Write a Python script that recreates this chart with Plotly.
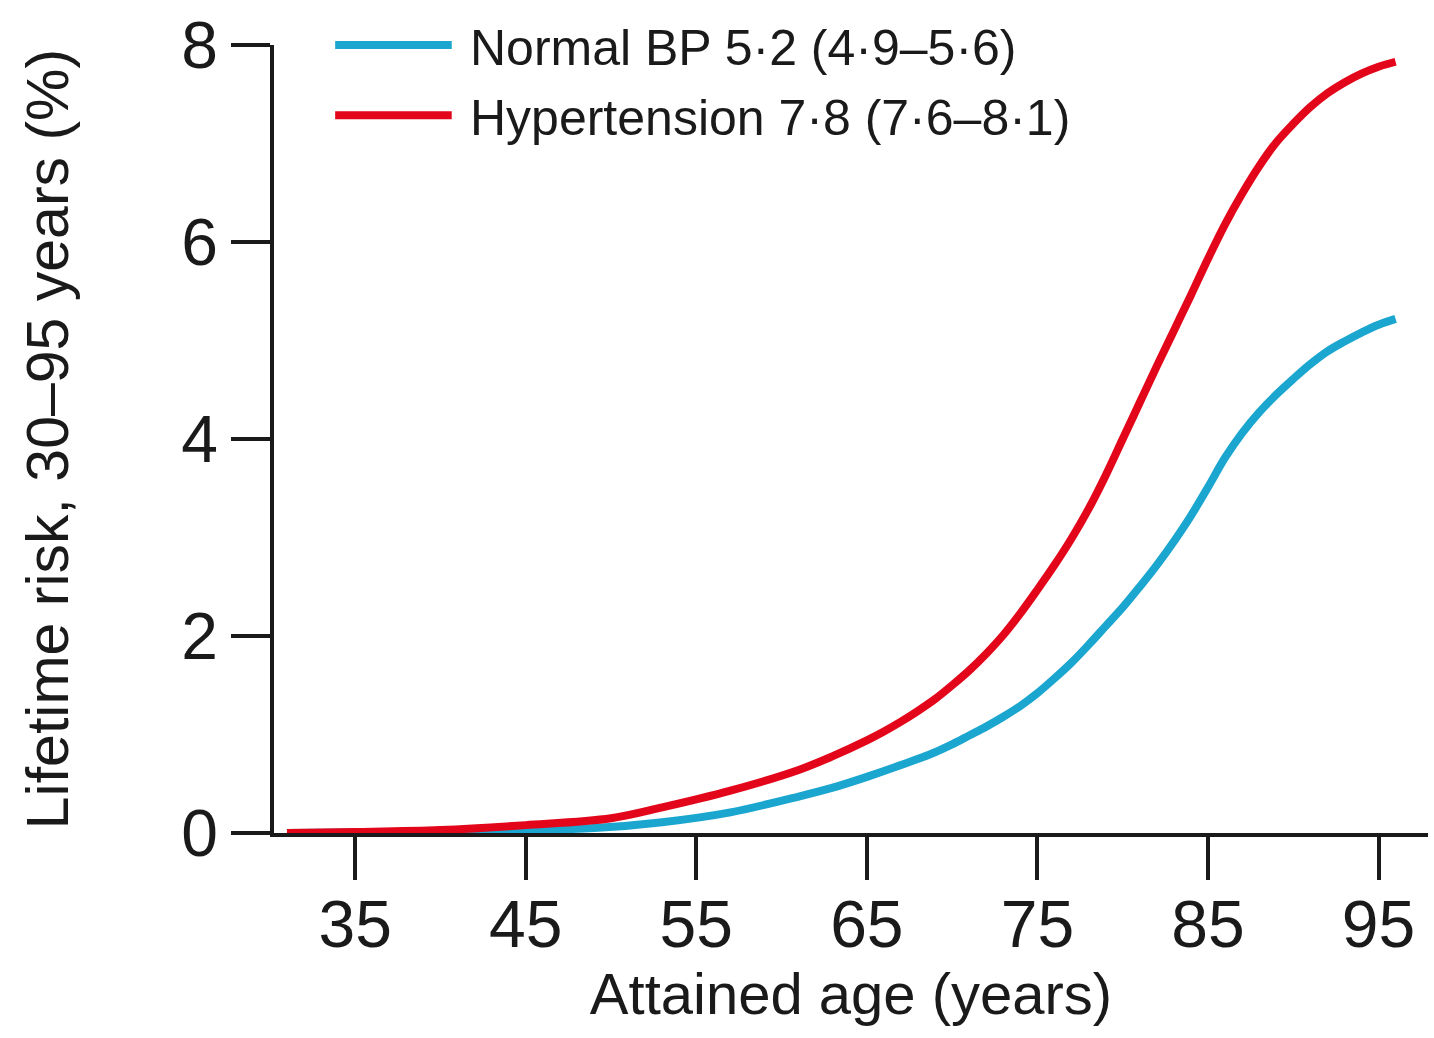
import plotly.graph_objects as go

# Data
age_red = [31, 35, 40, 45, 50, 53, 57, 61, 63, 65, 66, 67, 68, 69, 70, 71, 72, 73, 74, 75, 76, 77,
           78, 79, 80, 81, 82, 83, 84, 85, 86, 87, 88, 89, 90, 91, 92, 93, 94, 95, 96]
hypertension = [0.0, 0.01, 0.03, 0.08, 0.15, 0.26, 0.43, 0.64, 0.78, 0.94, 1.03, 1.13, 1.24, 1.36,
                1.50, 1.65, 1.82, 2.01, 2.23, 2.47, 2.72, 2.99, 3.29, 3.63, 4.00, 4.37, 4.74, 5.10,
                5.46, 5.83, 6.18, 6.49, 6.77, 7.01, 7.20, 7.37, 7.51, 7.62, 7.71, 7.78, 7.83]

age_blue = [31, 35, 40, 45, 49, 53, 57, 61, 63, 65, 67, 69, 70, 71, 72, 73, 74, 75, 76, 77, 78, 79,
            80, 81, 82, 83, 84, 85, 86, 87, 88, 89, 90, 91, 92, 93, 94, 95, 96]
normal_bp = [0.0, 0.005, 0.015, 0.03, 0.05, 0.11, 0.21, 0.37, 0.46, 0.57, 0.69, 0.82, 0.90, 0.99,
             1.08, 1.18, 1.29, 1.42, 1.57, 1.73, 1.91, 2.10, 2.29, 2.50, 2.72, 2.96, 3.22, 3.51,
             3.81, 4.06, 4.27, 4.45, 4.61, 4.76, 4.89, 4.99, 5.08, 5.16, 5.22]

x_ticks = [35, 45, 55, 65, 75, 85, 95]
y_ticks = [0, 2, 4, 6, 8]

legend_labels = ["Normal BP 5·2 (4·9–5·6)", "Hypertension 7·8 (7·6–8·1)"]
colors = ["#1AA6CF", "#E3061B"]

FONT = "Liberation Sans"
INK = "#1a1a1a"

fig = go.Figure()
fig.add_trace(go.Scatter(x=age_blue, y=normal_bp, mode="lines", name=legend_labels[0],
                         line=dict(color=colors[0], width=8, shape="spline", smoothing=1),
                         showlegend=False))
fig.add_trace(go.Scatter(x=age_red, y=hypertension, mode="lines", name=legend_labels[1],
                         line=dict(color=colors[1], width=8, shape="spline", smoothing=1),
                         showlegend=False))

# Manual legend (long line samples as in the reference)
leg_y = [1.0, 0.911]
for i in range(2):
    fig.add_shape(type="line", xref="paper", yref="paper", x0=0.053, x1=0.154,
                  y0=leg_y[i], y1=leg_y[i], line=dict(color=colors[i], width=8))
    fig.add_annotation(xref="paper", yref="paper", x=0.168, y=leg_y[i] - 0.004,
                       xanchor="left", yanchor="middle", showarrow=False,
                       text=legend_labels[i], font=dict(family=FONT, size=50, color=INK))

fig.update_layout(
    width=1434, height=1038,
    margin=dict(l=274, r=6, t=45, b=205),
    paper_bgcolor="white", plot_bgcolor="white",
    font=dict(family=FONT, color=INK),
)
fig.update_xaxes(range=[30.24, 97.9], tickvals=x_ticks, ticks="outside", ticklen=43,
                 tickwidth=3.5, tickcolor=INK, showline=True, linewidth=3.5, linecolor=INK,
                 showgrid=False, zeroline=False, tickfont=dict(size=66, family=FONT),
                 ticklabelstandoff=-12,
                 title=dict(text="Attained age (years)", font=dict(size=58, family=FONT), standoff=13))
fig.update_yaxes(range=[0, 8], tickvals=y_ticks, ticks="outside", ticklen=39,
                 tickwidth=3.5, tickcolor=INK, showline=True, linewidth=3.5, linecolor=INK,
                 showgrid=False, zeroline=False, tickfont=dict(size=66, family=FONT),
                 title=dict(text="Lifetime risk, 30–95 years (%)", font=dict(size=59, family=FONT), standoff=95))

fig.write_html("out.html")
